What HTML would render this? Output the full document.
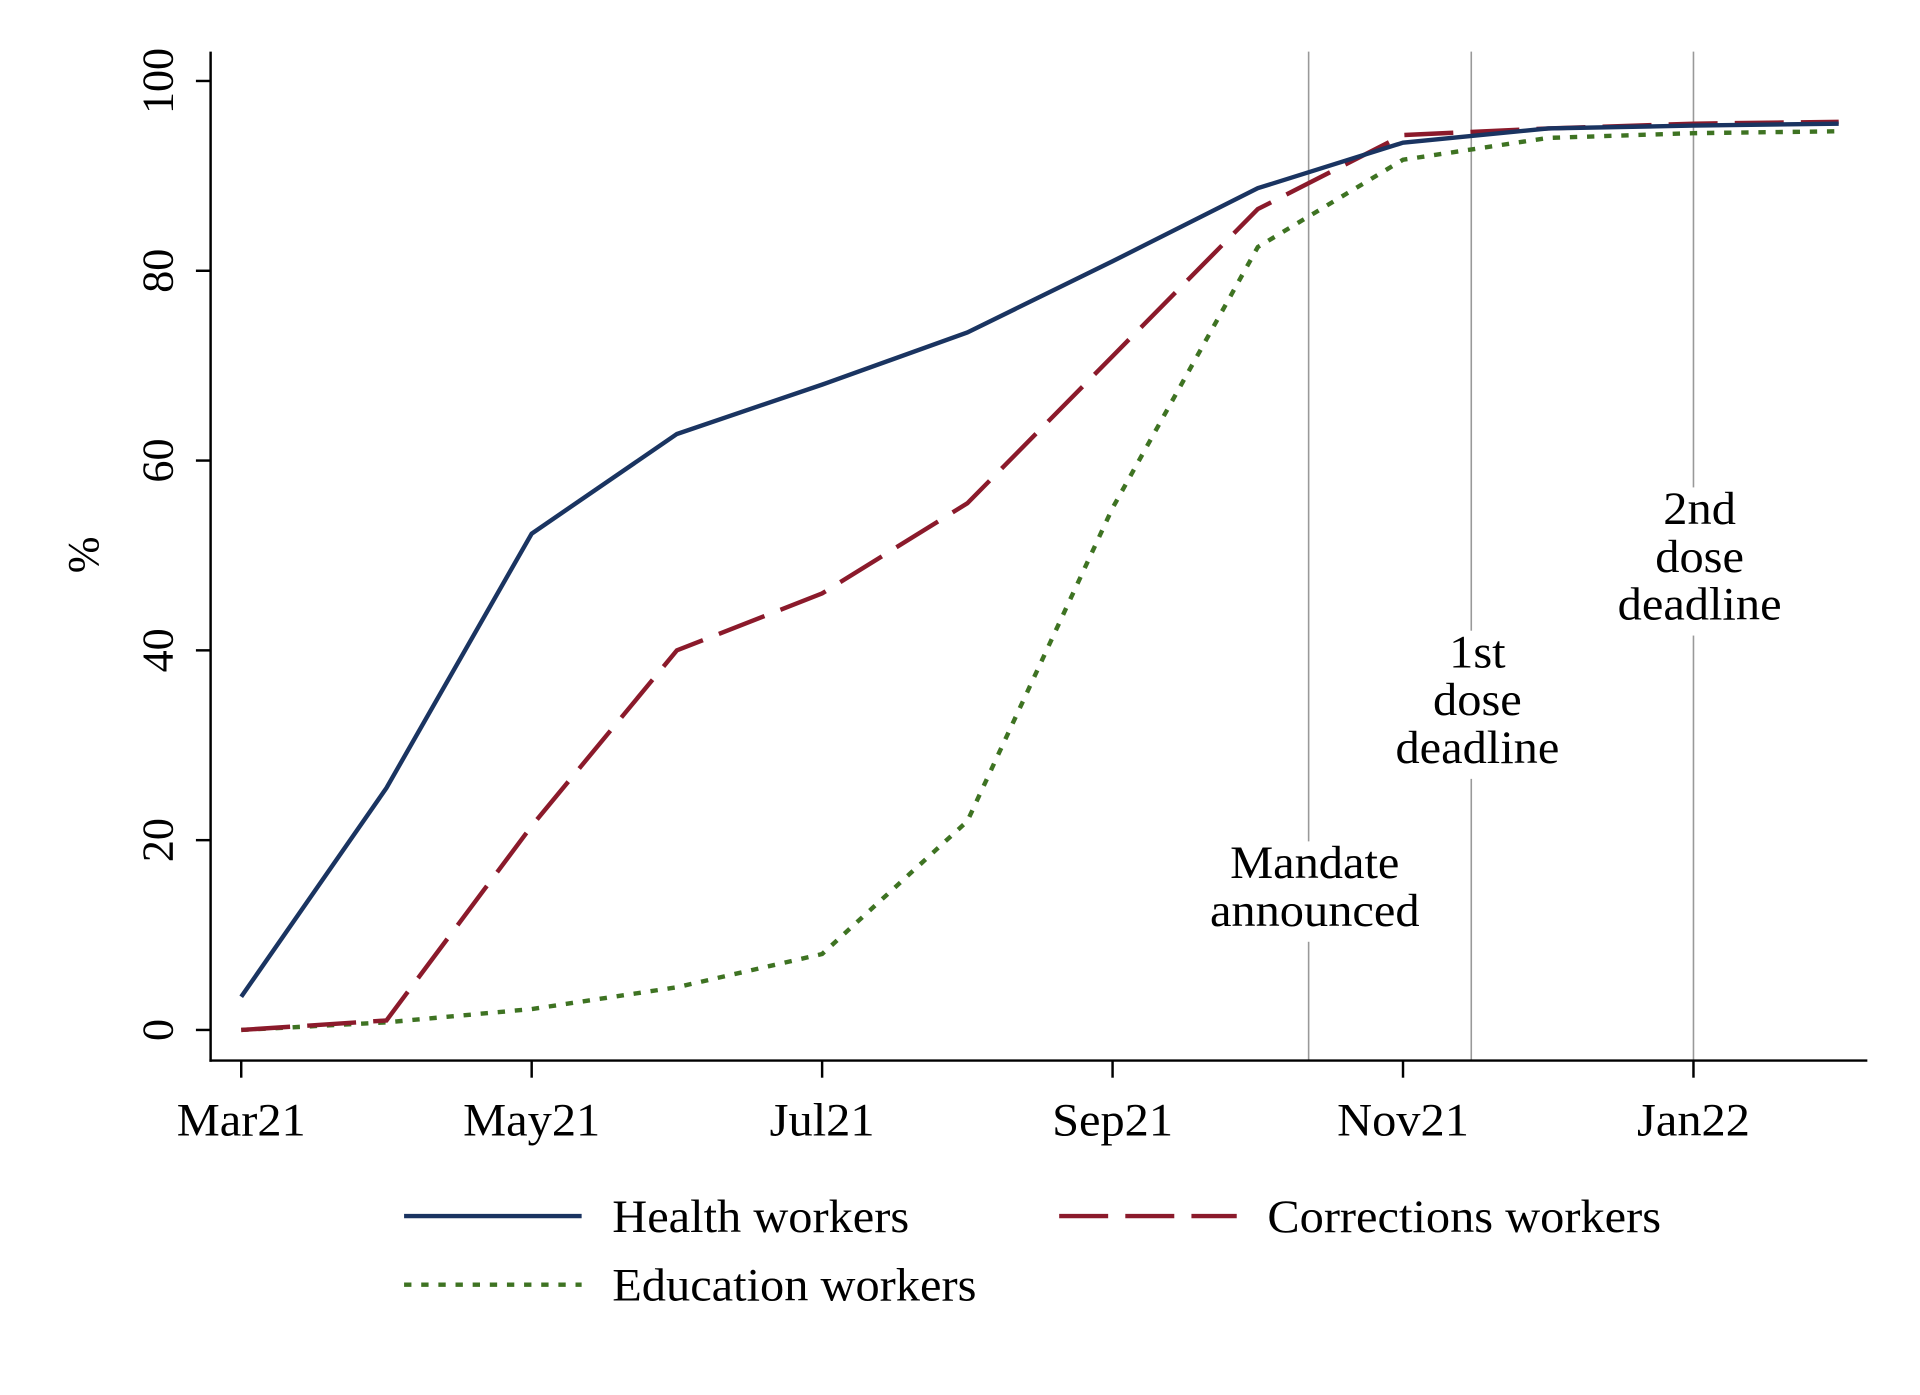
<!DOCTYPE html>
<html><head><meta charset="utf-8"><style>html,body{margin:0;padding:0;background:#fff}svg{display:block}</style></head>
<body>
<svg id="chart" width="1920" height="1395" viewBox="0 0 1568 1139" xmlns="http://www.w3.org/2000/svg" font-family="'Liberation Serif', serif">
<rect x="0" y="0" width="1568" height="1139" fill="#fff"/>
<g id="grid"></g><g id="axes"></g><g id="series"></g><g id="legend"></g>
</svg>
<script>
const months = ["Mar21","Apr21","May21","Jun21","Jul21","Aug21","Sep21","Oct21","Nov21","Dec21","Jan22","Feb22"];
const tickMonths = [0,2,4,6,8,10];
const tickLabels = ["Mar21","May21","Jul21","Sep21","Nov21","Jan22"];
const yTicks = [0,20,40,60,80,100];
const health = [3.5,25.5,52.3,62.8,68,73.5,81,88.7,93.5,95,95.3,95.5];
const corrections = [0,1,21.5,40,46,55.5,71,86.5,94.3,95,95.5,95.7];
const education = [0,0.8,2.2,4.5,8,22,55,82.5,91.7,94,94.5,94.7];
const eventPositions = [7.35,8.47,10];
const eventLabels = [["Mandate","announced"],["1st","dose","deadline"],["2nd","dose","deadline"]];
const eventLabelTop = [16,38.2,53.3];

const NS="http://www.w3.org/2000/svg";
const X=m=>197+m*118.6;
const Y=v=>841-v*7.75;
function mk(tag,attrs,parent){const e=document.createElementNS(NS,tag);for(const k in attrs)e.setAttribute(k,attrs[k]);parent.appendChild(e);return e;}
const grid=document.getElementById('grid'),axes=document.getElementById('axes'),ser=document.getElementById('series'),leg=document.getElementById('legend');
const SX=1.04;

eventPositions.forEach((p,i)=>{
  const l=mk('line',{x1:X(p),x2:X(p),y1:42,y2:866,stroke:'#999','stroke-width':1.3},grid);
  
  
  const lines=eventLabels[i];
  const y0=Y(eventLabelTop[i]);
  const cx=X(p)+5;
  const w=i===0?180:140;
  const bg=mk('rect',{x:cx-w/2,y:y0-30,width:w,height:lines.length*39+4,fill:'#fff'},grid);
  
  
  lines.forEach((t,j)=>{
    const tx=mk('text',{x:0,y:0,transform:`translate(${cx},${y0+j*39}) scale(${SX},1)`,'text-anchor':'middle','font-size':38,fill:'#000'},grid);
    tx.textContent=t;
    
    
  });
});

const ya=mk('line',{x1:172,x2:172,y1:42,y2:867,stroke:'#000','stroke-width':2},axes);

const xa=mk('line',{x1:171,x2:1525,y1:866,y2:866,stroke:'#000','stroke-width':2},axes);

yTicks.forEach(v=>{
  const t=mk('line',{x1:160,x2:172,y1:Y(v),y2:Y(v),stroke:'#000','stroke-width':2},axes);
  
  const tx=mk('text',{x:0,y:0,transform:`translate(141,${Y(v)}) rotate(-90)`,'text-anchor':'middle','font-size':36},axes);
  tx.textContent=v;
  
});
tickMonths.forEach((m,i)=>{
  const t=mk('line',{x1:X(m),x2:X(m),y1:866,y2:880,stroke:'#000','stroke-width':2},axes);
  
  const tx=mk('text',{x:0,y:0,transform:`translate(${X(m)},927) scale(${SX},1)`,'text-anchor':'middle','font-size':38},axes);
  tx.textContent=tickLabels[i];
  
});
const yt=mk('text',{x:0,y:0,transform:'translate(80,453) rotate(-90)','text-anchor':'middle','font-size':36},axes);
yt.textContent='%';


const styles=[
 {data:education,color:'#3e7322',dash:'6 8',name:'education-line'},
 {data:corrections,color:'#8b1a2b',dash:'40 14',name:'corrections-line'},
 {data:health,color:'#1a3461',dash:'',name:'health-line'}];
styles.forEach(s=>{
  const d=s.data.map((v,i)=>(i?'L':'M')+X(i)+','+Y(v)).join(' ');
  const p=mk('path',{d:d,fill:'none',stroke:s.color,'stroke-width':3.6,'stroke-dasharray':s.dash},ser);
  
  
});

const legItems=[
 {x:330,y:993,color:'#1a3461',dash:'',label:'Health workers'},
 {x:865,y:993,color:'#8b1a2b',dash:'40 14',label:'Corrections workers'},
 {x:330,y:1049,color:'#3e7322',dash:'6 8',label:'Education workers'}];
legItems.forEach(it=>{
  const l=mk('line',{x1:it.x,x2:it.x+145,y1:it.y,y2:it.y,stroke:it.color,'stroke-width':3.6,'stroke-dasharray':it.dash},leg);
  
  const t=mk('text',{x:0,y:0,transform:`translate(${it.x+170},${it.y+13}) scale(${SX},1)`,'font-size':38},leg);
  t.textContent=it.label;
  
});
</script>
</body></html>
